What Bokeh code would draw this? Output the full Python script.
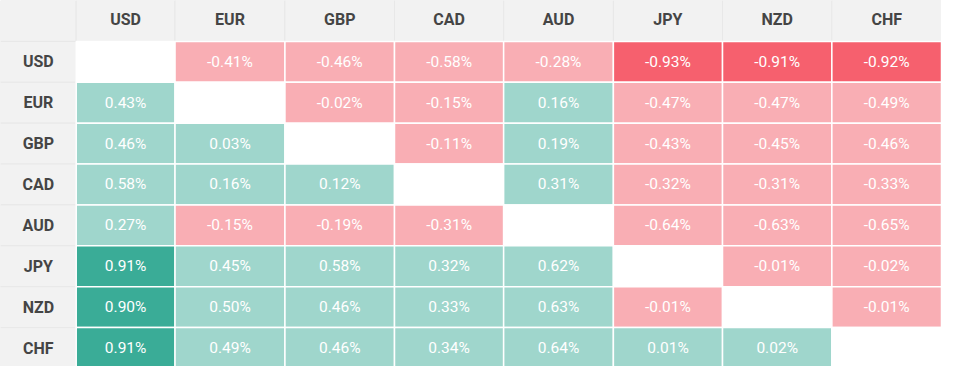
from bokeh.plotting import figure
from bokeh.models import ColumnDataSource, Range1d
from bokeh.embed import file_html
from bokeh.resources import INLINE
from bokeh.core.properties import value

currencies = ["USD", "EUR", "GBP", "CAD", "AUD", "JPY", "NZD", "CHF"]

row_usd = [None, -0.41, -0.46, -0.58, -0.28, -0.93, -0.91, -0.92]
row_eur = [0.43, None, -0.02, -0.15, 0.16, -0.47, -0.47, -0.49]
row_gbp = [0.46, 0.03, None, -0.11, 0.19, -0.43, -0.45, -0.46]
row_cad = [0.58, 0.16, 0.12, None, 0.31, -0.32, -0.31, -0.33]
row_aud = [0.27, -0.15, -0.19, -0.31, None, -0.64, -0.63, -0.65]
row_jpy = [0.91, 0.45, 0.58, 0.32, 0.62, None, -0.01, -0.02]
row_nzd = [0.90, 0.50, 0.46, 0.33, 0.63, -0.01, None, -0.01]
row_chf = [0.91, 0.49, 0.46, 0.34, 0.64, 0.01, 0.02, None]

rows = [row_usd, row_eur, row_gbp, row_cad, row_aud, row_jpy, row_nzd, row_chf]

# layout (reference pixel space)
col_edges = [0, 77, 177.5, 289.3, 400.7, 511.7, 623.3, 734.3, 845.5, 957]
row_h = 42.67

STRONG_POS = "#3aac97"
LIGHT_POS = "#9fd6cc"
STRONG_NEG = "#f6606e"
LIGHT_NEG = "#f9aeb4"
GRAY = "#f2f2f2"


def cell_color(v):
    if v is None:
        return "#ffffff"
    if v >= 0.8:
        return STRONG_POS
    if v > 0:
        return LIGHT_POS
    if v <= -0.8:
        return STRONG_NEG
    return LIGHT_NEG


hl, hr, ht, hb, hx, hy, htxt = [], [], [], [], [], [], []
hl.append(col_edges[0]); hr.append(col_edges[1]); ht.append(0); hb.append(row_h)
for j, c in enumerate(currencies):
    l, r = col_edges[j + 1], col_edges[j + 2]
    hl.append(l); hr.append(r); ht.append(0); hb.append(row_h)
    hx.append((l + r) / 2); hy.append(row_h / 2 - 1); htxt.append(c)
for i, c in enumerate(currencies):
    t, b = (i + 1) * row_h, (i + 2) * row_h
    hl.append(col_edges[0]); hr.append(col_edges[1]); ht.append(t); hb.append(b)
    hx.append((col_edges[0] + col_edges[1]) / 2); hy.append((t + b) / 2); htxt.append(c)

gray_src = ColumnDataSource(dict(left=hl, right=hr, top=ht, bottom=hb))
head_txt = ColumnDataSource(dict(x=hx, y=hy, text=htxt))

cl, cr, ct, cb, cc, tx, ty, tt = [], [], [], [], [], [], [], []
for i, row in enumerate(rows):
    t, b = (i + 1) * row_h, (i + 2) * row_h
    for j, v in enumerate(row):
        l, r = col_edges[j + 1], col_edges[j + 2]
        cl.append(l); cr.append(r); ct.append(t); cb.append(b)
        cc.append(cell_color(v))
        if v is not None:
            tx.append((l + r) / 2); ty.append((t + b) / 2)
            tt.append(f"{v:.2f}%")

cell_src = ColumnDataSource(dict(left=cl, right=cr, top=ct, bottom=cb, color=cc))
cell_txt = ColumnDataSource(dict(x=tx, y=ty, text=tt))

p = figure(width=941, height=366, x_range=Range1d(0, 957), y_range=Range1d(382, 0),
           output_backend="svg", toolbar_location=None, min_border=0,
           x_axis_type=None, y_axis_type=None)
p.grid.visible = False
p.outline_line_color = None
p.background_fill_color = "#ffffff"

p.quad(left="left", right="right", top="top", bottom="bottom", source=gray_src,
       fill_color=GRAY, line_color="#e8e8e8", line_width=1)
p.quad(left="left", right="right", top="top", bottom="bottom", source=cell_src,
       fill_color="color", line_color="#ffffff", line_width=1.5)

p.text(x="x", y="y", text="text", source=head_txt, text_align="center",
       text_baseline="middle", text_font=value("Roboto"), text_font_style="bold",
       text_font_size="16px", text_color="#454545")
p.text(x="x", y="y", text="text", source=cell_txt, text_align="center",
       text_baseline="middle", text_font=value("Roboto"),
       text_font_size="15.5px", text_color="#ffffff")

open("out.html", "w").write(file_html(p, INLINE))
